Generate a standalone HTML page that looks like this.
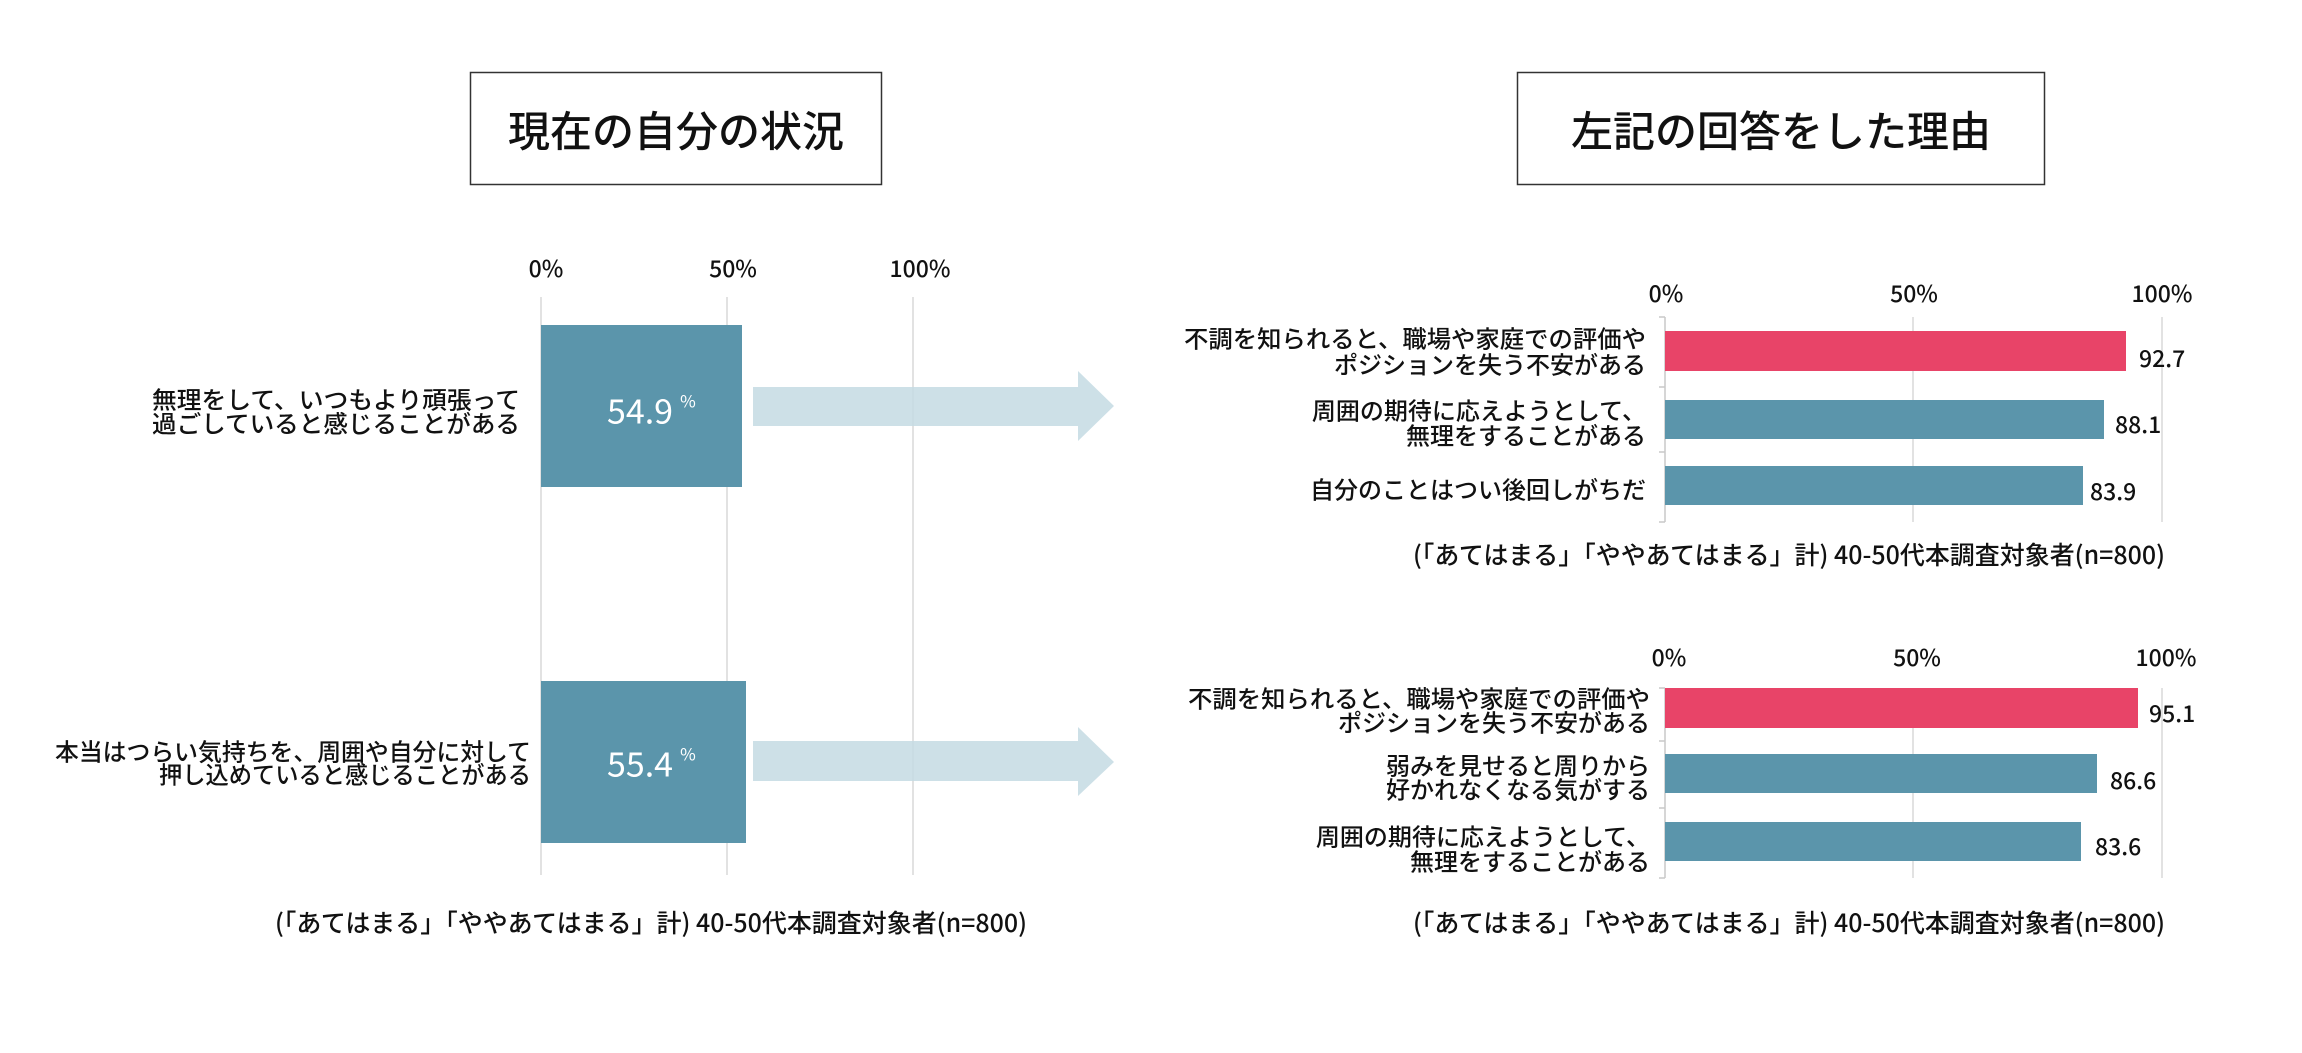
<!DOCTYPE html>
<html><head><meta charset="utf-8"><style>
html,body{margin:0;padding:0;background:#fff;}
svg{display:block;}
text{font-family:"Noto Sans CJK JP",sans-serif;fill:#111;font-weight:500;}
</style></head><body>
<svg width="2302" height="1053" viewBox="0 0 2302 1053" xmlns="http://www.w3.org/2000/svg">
<rect width="2302" height="1053" fill="#fff"/>
<!-- Left title -->
<rect x="470.5" y="72.5" width="411" height="112" fill="#fff" stroke="#333" stroke-width="1.5"/>
<text x="676" y="129" font-size="42" text-anchor="middle" dominant-baseline="central">現在の自分の状況</text>
<!-- Left axis -->
<g font-size="23" text-anchor="middle" dominant-baseline="central">
<text x="546" y="267">0%</text><text x="733" y="267">50%</text><text x="920" y="267">100%</text>
</g>
<line x1="541" y1="297" x2="541" y2="875" stroke="#d9d9d9" stroke-width="1.5"/>
<line x1="727" y1="297" x2="727" y2="875" stroke="#d9d9d9" stroke-width="1.5"/>
<line x1="913" y1="297" x2="913" y2="875" stroke="#d9d9d9" stroke-width="1.5"/>
<rect x="541" y="325" width="201" height="162" fill="#5b95ab"/>
<rect x="541" y="681" width="205" height="162" fill="#5b95ab"/>
<text x="640" y="409" font-size="34" style="fill:#fff;font-weight:400" text-anchor="middle" dominant-baseline="central">54.9</text>
<text x="688" y="400" font-size="17" style="fill:#fff;font-weight:400" text-anchor="middle" dominant-baseline="central">%</text>
<text x="640" y="762" font-size="34" style="fill:#fff;font-weight:400" text-anchor="middle" dominant-baseline="central">55.4</text>
<text x="688" y="753" font-size="17" style="fill:#fff;font-weight:400" text-anchor="middle" dominant-baseline="central">%</text>
<polygon points="753,387 1078,387 1078,371 1114,406 1078,441 1078,426 753,426" fill="#c4dbe3" opacity="0.85"/>
<polygon points="753,741 1078,741 1078,727 1114,762 1078,796 1078,781 753,781" fill="#c4dbe3" opacity="0.85"/>
<g font-size="24" text-anchor="end" dominant-baseline="central">
<text x="520" y="398" textLength="368" lengthAdjust="spacingAndGlyphs">無理をして、いつもより頑張って</text>
<text x="520" y="422" textLength="368" lengthAdjust="spacingAndGlyphs">過ごしていると感じることがある</text>
<text x="531" y="750" textLength="476" lengthAdjust="spacingAndGlyphs">本当はつらい気持ちを、周囲や自分に対して</text>
<text x="531" y="773" textLength="372" lengthAdjust="spacingAndGlyphs">押し込めていると感じることがある</text>
</g>
<text x="651" y="922" font-size="25" text-anchor="middle" dominant-baseline="central" textLength="752" lengthAdjust="spacingAndGlyphs">(「あてはまる」「ややあてはまる」計) 40-50代本調査対象者(n=800)</text>

<!-- Right title -->
<rect x="1517.5" y="72.5" width="527" height="112" fill="#fff" stroke="#333" stroke-width="1.5"/>
<text x="1781" y="129" font-size="42" text-anchor="middle" dominant-baseline="central">左記の回答をした理由</text>

<!-- Chart 1 -->
<g font-size="23" text-anchor="middle" dominant-baseline="central">
<text x="1666" y="292">0%</text><text x="1914" y="292">50%</text><text x="2162" y="292">100%</text>
</g>
<line x1="1913" y1="317" x2="1913" y2="522" stroke="#d9d9d9" stroke-width="1.5"/>
<line x1="2162" y1="317" x2="2162" y2="522" stroke="#d9d9d9" stroke-width="1.5"/>
<line x1="1665" y1="317" x2="1665" y2="522" stroke="#c8c8c8" stroke-width="1.5"/>
<g stroke="#c8c8c8" stroke-width="1.5"><line x1="1659" y1="317" x2="1665" y2="317"/><line x1="1659" y1="387" x2="1665" y2="387"/><line x1="1659" y1="452" x2="1665" y2="452"/><line x1="1659" y1="522" x2="1665" y2="522"/></g>
<rect x="1665" y="331" width="461" height="40" fill="#e84468"/>
<rect x="1665" y="400" width="439" height="39" fill="#5b95ab"/>
<rect x="1665" y="466" width="418" height="39" fill="#5b95ab"/>
<g font-size="23" dominant-baseline="central" style="font-weight:400">
<text x="2139" y="357">92.7</text><text x="2115" y="423">88.1</text><text x="2090" y="490">83.9</text>
</g>
<g font-size="24" text-anchor="end" dominant-baseline="central">
<text x="1646" y="337" textLength="462" lengthAdjust="spacingAndGlyphs">不調を知られると、職場や家庭での評価や</text>
<text x="1646" y="363">ポジションを失う不安がある</text>
<text x="1646" y="409">周囲の期待に応えようとして、</text>
<text x="1646" y="434">無理をすることがある</text>
<text x="1646" y="488">自分のことはつい後回しがちだ</text>
</g>
<text x="1789" y="554" font-size="25" text-anchor="middle" dominant-baseline="central" textLength="752" lengthAdjust="spacingAndGlyphs">(「あてはまる」「ややあてはまる」計) 40-50代本調査対象者(n=800)</text>

<!-- Chart 2 -->
<g font-size="23" text-anchor="middle" dominant-baseline="central">
<text x="1669" y="656">0%</text><text x="1917" y="656">50%</text><text x="2166" y="656">100%</text>
</g>
<line x1="1913" y1="688" x2="1913" y2="878" stroke="#d9d9d9" stroke-width="1.5"/>
<line x1="2162" y1="688" x2="2162" y2="878" stroke="#d9d9d9" stroke-width="1.5"/>
<line x1="1665" y1="688" x2="1665" y2="878" stroke="#c8c8c8" stroke-width="1.5"/>
<g stroke="#c8c8c8" stroke-width="1.5"><line x1="1659" y1="688" x2="1665" y2="688"/><line x1="1659" y1="741" x2="1665" y2="741"/><line x1="1659" y1="808" x2="1665" y2="808"/><line x1="1659" y1="878" x2="1665" y2="878"/></g>
<rect x="1665" y="688" width="473" height="40" fill="#e84468"/>
<rect x="1665" y="754" width="432" height="39" fill="#5b95ab"/>
<rect x="1665" y="822" width="416" height="39" fill="#5b95ab"/>
<g font-size="23" dominant-baseline="central" style="font-weight:400">
<text x="2149" y="712">95.1</text><text x="2110" y="779">86.6</text><text x="2095" y="845">83.6</text>
</g>
<g font-size="24" text-anchor="end" dominant-baseline="central">
<text x="1650" y="697" textLength="462" lengthAdjust="spacingAndGlyphs">不調を知られると、職場や家庭での評価や</text>
<text x="1650" y="721">ポジションを失う不安がある</text>
<text x="1650" y="764">弱みを見せると周りから</text>
<text x="1650" y="788">好かれなくなる気がする</text>
<text x="1650" y="835">周囲の期待に応えようとして、</text>
<text x="1650" y="860">無理をすることがある</text>
</g>
<text x="1789" y="922" font-size="25" text-anchor="middle" dominant-baseline="central" textLength="752" lengthAdjust="spacingAndGlyphs">(「あてはまる」「ややあてはまる」計) 40-50代本調査対象者(n=800)</text>
</svg>
</body></html>
